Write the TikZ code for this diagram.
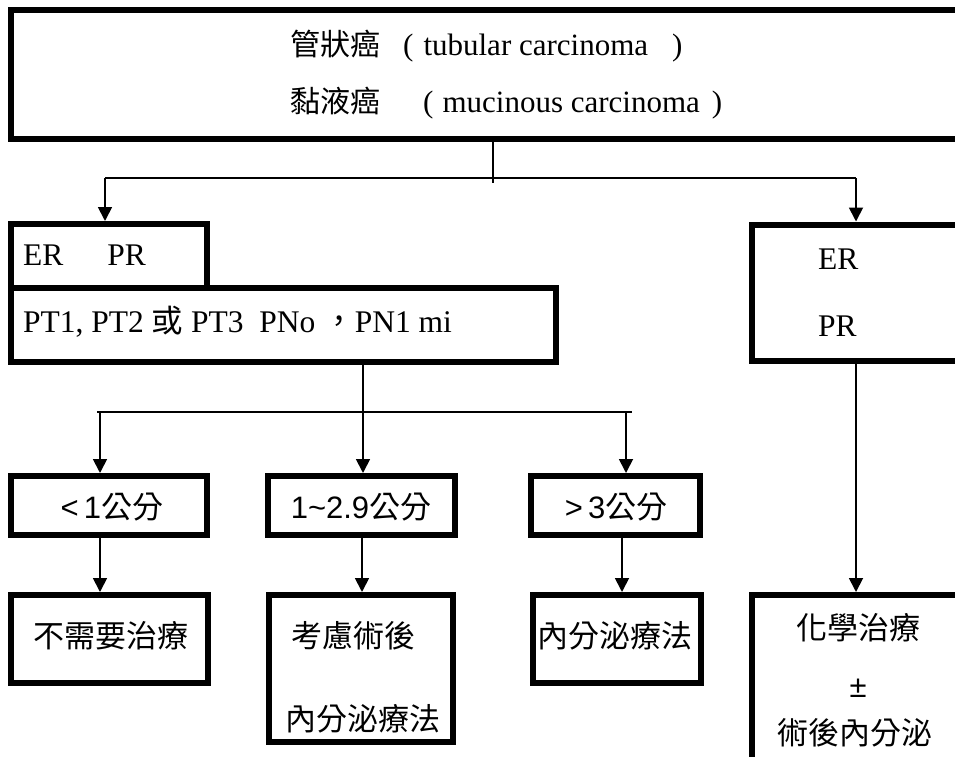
\documentclass[tikz,border=0pt]{standalone}
\usepackage{fontspec}
\setmainfont{Liberation Serif}
\newfontfamily\cj{Noto Sans CJK TC}
\newfontfamily\ar{Liberation Sans}
\usetikzlibrary{arrows.meta,calc}
\begin{document}
\begin{tikzpicture}[x=1pt,y=-1pt,
  box/.style={draw, line width=6pt, inner sep=0pt},
  link/.style={line width=1.8pt},
  arr/.style={link, -{Triangle[width=14pt,length=14pt]}},
  ttl/.style={font=\fontsize{31}{38}\selectfont, inner sep=0pt, anchor=west},
  lat/.style={font=\fontsize{31.5}{36}\selectfont, inner sep=0pt},
  cjt/.style={font=\cj\fontsize{31}{38}\selectfont, inner sep=0pt}]
\useasboundingbox (0,0) rectangle (955,757);
\clip (0,0) rectangle (955,757);

% boxes
\node[box, minimum width=964, minimum height=129] (top) at (493,74.5) {};
\node[box, minimum width=195.5, minimum height=64] (erL) at (108.75,256) {};
\node[box, minimum width=545, minimum height=73.5] (pt) at (283.5,324.75) {};
\node[box, minimum width=223, minimum height=136.5] (erR) at (863.5,292.75) {};
\node[box, minimum width=195.5, minimum height=58.5] (m1) at (108.75,505.25) {};
\node[box, minimum width=187, minimum height=58.5] (m2) at (361,505.25) {};
\node[box, minimum width=168.5, minimum height=58.5] (m3) at (615.25,505.25) {};
\node[box, minimum width=196.5, minimum height=88] (b1) at (109.25,639) {};
\node[box, minimum width=184, minimum height=147] (b2) at (360.5,668.5) {};
\node[box, minimum width=168, minimum height=88] (b3) at (616.5,639) {};
\node[box, minimum width=223, minimum height=205] (b4) at (863.5,697.5) {};

% texts
\node[ttl] (t1) at (290,46) {{\cj\fontsize{30}{36}\selectfont 管狀癌}\hspace{23pt}(\hspace{10pt}tubular carcinoma\hspace{24pt})};
\node[ttl] (t2) at (290,103) {{\cj\fontsize{30}{36}\selectfont 黏液癌}\hspace{43pt}(\hspace{9pt}mucinous carcinoma\hspace{12pt})};
\node[lat, anchor=west] (erLt) at (23,255) {ER\hspace{44pt}PR};
\node[lat, anchor=west] (ptt) at (23,322) {PT1, PT2 {\cj 或} PT3\ \ PNo {\cj ，}PN1 mi};
\node[lat, anchor=west] (erRa) at (818,259) {ER};
\node[lat, anchor=west] (erRb) at (818,326) {PR};
\node[cjt] (m1t) at (112,507) {{\ar <\,1}公分};
\node[cjt] (m2t) at (361,507) {{\ar 1\textasciitilde 2.9}公分};
\node[cjt] (m3t) at (616,507) {{\ar >\,3}公分};
\node[cjt] (b1t) at (111,636) {不需要治療};
\node[cjt] (b2a) at (353,636) {考慮術後};
\node[cjt] (b2b) at (363,719) {內分泌療法};
\node[cjt] (b3t) at (615,636) {內分泌療法};
\node[cjt] (b4a) at (858,628) {化學治療};
\node[cjt] (b4b) at (858,688) {\ar ±};
\node[cjt] (b4c) at (855,733) {術後內分泌};

% first split
\coordinate (j1) at (493,178);
\coordinate (dL) at (105,178);
\coordinate (dR) at (856,178);
\draw[link] (top.south) -- ($(j1)+(0,5)$);
\draw[link] (dL) -- (dR);
\draw[arr] (dL) -- (dL |- erL.north);
\draw[arr] (dR) -- (dR |- erR.north);

% second split
\coordinate (s2) at (363,412);
\coordinate (hL) at (97,412);
\coordinate (hR) at (632,412);
\coordinate (c1) at (100,412);
\coordinate (c3) at (626,412);
\draw[link] (s2 |- pt.south) -- (s2);
\draw[link] (hL) -- (hR);
\draw[arr] (c1) -- (c1 |- m1.north);
\draw[arr] (s2) -- (s2 |- m2.north);
\draw[arr] (c3) -- (c3 |- m3.north);

% size to treatment
\coordinate (k1) at (100,0);
\coordinate (k2) at (362,0);
\coordinate (k3) at (622,0);
\draw[arr] (k1 |- m1.south) -- (k1 |- b1.north);
\draw[arr] (k2 |- m2.south) -- (k2 |- b2.north);
\draw[arr] (k3 |- m3.south) -- (k3 |- b3.north);
\draw[arr] (dR |- erR.south) -- (dR |- b4.north);
\end{tikzpicture}
\end{document}
